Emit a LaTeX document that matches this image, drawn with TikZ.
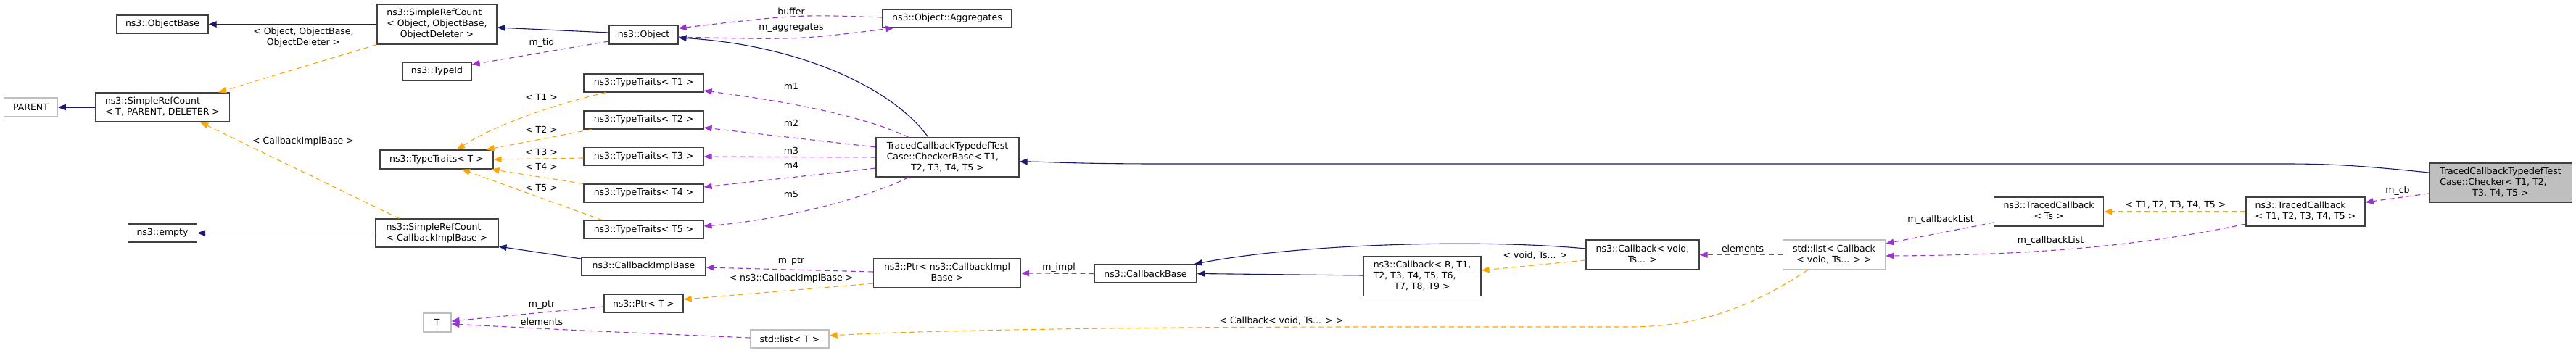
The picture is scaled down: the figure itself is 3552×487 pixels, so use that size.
\documentclass[tikz,border=0pt]{standalone}
\usepackage{fontspec}
\setmainfont{DejaVu Sans}
\usetikzlibrary{arrows.meta}

\definecolor{boxgray}{HTML}{404040}
\definecolor{extgray}{HTML}{BFBFBF}
\definecolor{inhblue}{HTML}{191970}
\definecolor{tplorange}{HTML}{FFA500}
\definecolor{usepurple}{HTML}{9A32CD}

\newcommand{\dgfont}{\fontsize{12.5}{15}\selectfont}
\newcommand{\twol}[2]{\begin{tabular}{@{}l@{}}#1\\\multicolumn{1}{@{}c@{}}{#2}\end{tabular}}

\tikzset{
  cls/.style={draw=boxgray, line width=1.2pt, fill=white, inner sep=0pt, align=center, font=\dgfont},
  ext/.style={cls, draw=extgray},
  cur/.style={cls, fill=extgray},
  lbl/.style={inner sep=0pt, align=center, font=\dgfont},
  inh/.style={draw=inhblue, line width=1.1pt, -{Triangle[length=11pt,width=8.5pt]}},
  tpl/.style={draw=tplorange, line width=1.1pt, dash pattern=on 7pt off 5pt, -{Triangle[length=11pt,width=8.5pt]}},
  usg/.style={draw=usepurple, line width=1.1pt, dash pattern=on 7pt off 5pt, -{Triangle[length=11pt,width=8.5pt]}}
}

\begin{document}
\begin{tikzpicture}[x=1pt,y=-1pt]
\useasboundingbox (0,0) rectangle (3552,487);

\node[cls, minimum width=126pt, minimum height=25pt] (obase) at (224,33.5) {ns3::ObjectBase};
\node[ext, minimum width=73.5pt, minimum height=26pt] (parent) at (42.5,148) {PARENT};
\node[cls, minimum width=185pt, minimum height=40pt] (srctpd) at (224,148) {\twol{ns3::SimpleRefCount}{< T, PARENT, DELETER >}};
\node[cls, minimum width=95pt, minimum height=25pt] (empty) at (224,321.5) {ns3::empty};
\node[cls, minimum width=165pt, minimum height=55pt] (srcobj) at (602.5,33.5) {\twol{ns3::SimpleRefCount\\< Object, ObjectBase,}{ObjectDeleter >}};
\node[cls, minimum width=95pt, minimum height=25pt] (typeid) at (602.5,98.5) {ns3::TypeId};
\node[cls, minimum width=156pt, minimum height=26pt] (ttT) at (602,220) {ns3::TypeTraits< T >};
\node[cls, minimum width=169pt, minimum height=39pt] (srccib) at (602.5,321.5) {\twol{ns3::SimpleRefCount}{< CallbackImplBase >}};
\node[ext, minimum width=38.5pt, minimum height=26pt] (tT) at (602.7,445) {T};
\node[cls, minimum width=95pt, minimum height=26pt] (object) at (887.5,48) {ns3::Object};
\node[cls, minimum width=165pt, minimum height=25pt] (tt1) at (887.5,114.5) {ns3::TypeTraits< T1 >};
\node[cls, minimum width=165pt, minimum height=25pt] (tt2) at (887.5,165.5) {ns3::TypeTraits< T2 >};
\node[cls, minimum width=165pt, minimum height=25pt] (tt3) at (887.5,216) {ns3::TypeTraits< T3 >};
\node[cls, minimum width=165pt, minimum height=25pt] (tt4) at (887.5,266.5) {ns3::TypeTraits< T4 >};
\node[cls, minimum width=165pt, minimum height=25pt] (tt5) at (887.5,317) {ns3::TypeTraits< T5 >};
\node[cls, minimum width=171pt, minimum height=25pt] (cib) at (887.5,367.5) {ns3::CallbackImplBase};
\node[cls, minimum width=109pt, minimum height=25pt] (ptrT) at (887.5,418.5) {ns3::Ptr< T >};
\node[ext, minimum width=108pt, minimum height=25pt] (listT) at (1089,467.5) {std::list< T >};
\node[cls, minimum width=178pt, minimum height=25pt] (aggr) at (1306,25.5) {ns3::Object::Aggregates};
\node[cls, minimum width=197pt, minimum height=54pt] (cbase) at (1306.5,217) {\twol{TracedCallbackTypedefTest\\Case::CheckerBase< T1,}{T2, T3, T4, T5 >}};
\node[cls, minimum width=203pt, minimum height=40pt] (ptrcib) at (1306,377) {\twol{ns3::Ptr< ns3::CallbackImpl}{Base >}};
\node[cls, minimum width=141pt, minimum height=25pt] (cbbase) at (1579.5,377.5) {ns3::CallbackBase};
\node[cls, minimum width=162pt, minimum height=55pt] (cbR) at (1961,381) {\twol{ns3::Callback< R, T1,\\T2, T3, T4, T5, T6,}{T7, T8, T9 >}};
\node[cls, minimum width=156pt, minimum height=41pt] (cbvoid) at (2265,351.5) {\twol{ns3::Callback< void,}{Ts... >}};
\node[ext, minimum width=141.5pt, minimum height=41pt] (listcb) at (2529,351.5) {\twol{std::list< Callback}{< void, Ts... > >}};
\node[cls, minimum width=151pt, minimum height=40pt] (tcTs) at (2825,292) {\twol{ns3::TracedCallback}{< Ts >}};
\node[cls, minimum width=164pt, minimum height=40pt] (tc15) at (3179,292) {\twol{ns3::TracedCallback}{< T1, T2, T3, T4, T5 >}};
\node[cur, minimum width=197pt, minimum height=54pt] (checker) at (3448,252) {\twol{TracedCallbackTypedefTest\\Case::Checker< T1, T2,}{T3, T4, T5 >}};

\draw[inh] (srcobj.west) -- (obase.east);
\draw[inh] (srctpd.west) -- (parent.east);
\draw[inh] (srccib.west) -- (empty.east);
\draw[tpl] (srcobj.south west) -- ([xshift=-16pt]srctpd.north east);
\node[lbl] (lobj) at (418.5,51.5) {< Object, ObjectBase,\\ObjectDeleter >};
\draw[tpl] ([xshift=33pt]srccib.north west) -- ([xshift=-41pt]srctpd.south east);
\node[lbl] (lcib) at (418,195) {< CallbackImplBase >};

\draw[inh] ([yshift=3pt]object.west) -- ([yshift=-4.5pt]srcobj.east);
\draw[usg] ([yshift=-9pt]object.west) -- ([yshift=9.5pt]typeid.east);
\node[lbl] (ltid) at (747,59) {m\_tid};
\draw[usg] ([yshift=1.5pt]aggr.west) .. controls (1100,20) .. ([yshift=9pt]object.east);
\node[lbl] (lbuf) at (1091,16) {buffer};
\draw[usg] ([yshift=-3pt]object.east) .. controls (1100,55) .. ([xshift=16pt]aggr.south west);
\node[lbl] (lagg) at (1091,39) {m\_aggregates};
\draw[inh] ([xshift=-26.5pt]cbase.north) .. controls (1230,120) and (1100,62) .. ([yshift=-4pt]object.east);
\draw[inh] ([yshift=14pt]checker.west) .. controls (3260,229) and (3220,226) .. (3150,226) -- (1600,226) .. controls (1480,226) and (1440,223) .. ([yshift=-6pt]cbase.east);

\draw[tpl] ([xshift=-52pt]tt1.south) .. controls (740,150) and (670,180) .. ([xshift=28pt]ttT.north);
\node[lbl] (lt1) at (746.5,134) {< T1 >};
\draw[tpl] ([xshift=-72pt]tt2.south) -- ([xshift=68.5pt]ttT.north);
\node[lbl] (lt2) at (746.5,179) {< T2 >};
\draw[tpl] ([yshift=-2pt]tt3.west) -- (ttT.east);
\node[lbl] (lt3) at (746.5,210) {< T3 >};
\draw[tpl] (tt4.north west) -- ([xshift=-3pt]ttT.south east);
\node[lbl] (lt4) at (746.5,230) {< T4 >};
\draw[tpl] ([xshift=-56.5pt]tt5.north) -- ([xshift=35pt]ttT.south);
\node[lbl] (lt5) at (746.5,259) {< T5 >};

\draw[usg] ([xshift=-53.5pt]cbase.north) .. controls (1180,155) and (1060,137) .. ([yshift=-10.5pt]tt1.east);
\node[lbl] (lm1) at (1091,119) {m1};
\draw[usg] ([yshift=14pt]cbase.west) -- ([yshift=-10.5pt]tt2.east);
\node[lbl] (lm2) at (1091,170) {m2};
\draw[usg] (cbase.west) -- (tt3.east);
\node[lbl] (lm3) at (1091,208) {m3};
\draw[usg] ([yshift=-15pt]cbase.west) -- ([yshift=8.5pt]tt4.east);
\node[lbl] (lm4) at (1091,228) {m4};
\draw[usg] ([xshift=-53.5pt]cbase.south) .. controls (1180,280) and (1060,305) .. ([yshift=5pt]tt5.east);
\node[lbl] (lm5) at (1091,268) {m5};

\draw[inh] ([yshift=10.5pt]cib.west) -- ([yshift=-18.5pt]srccib.east);
\draw[usg] ([yshift=2pt]ptrcib.west) -- ([yshift=-1.5pt]cib.east);
\node[lbl] (lptr) at (1091,361) {m\_ptr};
\draw[tpl] ([yshift=-14pt]ptrcib.west) -- ([yshift=5.5pt]ptrT.east);
\node[lbl] (lpcib) at (1091,384) {< ns3::CallbackImplBase >};
\draw[usg] ([yshift=-4.5pt]ptrT.west) -- ([yshift=2pt]tT.east);
\node[lbl] (lptrT) at (747,421) {m\_ptr};
\draw[usg] ([yshift=1.5pt]listT.west) .. controls (800,456) .. ([yshift=-2pt]tT.east);
\node[lbl] (lelT) at (747,444) {elements};
\draw[tpl] ([xshift=-36.5pt]listcb.south) .. controls (2420,420) and (2350,450) .. (2250,451) -- (1900,451) .. controls (1500,451) and (1250,457) .. ([yshift=4.5pt]listT.east);
\node[lbl] (lcbl) at (1767,442) {< Callback< void, Ts... > >};

\draw[usg] (cbbase.west) -- (ptrcib.east);
\node[lbl] (limpl) at (1460,369) {m\_impl};
\draw[inh] ([yshift=1pt]cbR.west) -- (cbbase.east);
\draw[inh] ([yshift=8.5pt]cbvoid.west) .. controls (2050,330) and (1800,335) .. ([xshift=-4pt]cbbase.north east);
\draw[tpl] ([yshift=-7.5pt]cbvoid.west) -- ([yshift=8pt]cbR.east);
\node[lbl] (lvoid) at (2117,352) {< void, Ts... >};
\draw[usg] (listcb.west) -- (cbvoid.east);
\node[lbl] (lelcb) at (2403,343) {elements};

\draw[usg] ([yshift=-15pt]tcTs.west) -- ([yshift=15.5pt]listcb.east);
\node[lbl] (lcl1) at (2676,303) {m\_callbackList};
\draw[usg] ([yshift=-17pt]tc15.west) .. controls (2950,340) and (2800,352) .. ([yshift=-1.5pt]listcb.east);
\node[lbl] (lcl2) at (2827.5,332) {m\_callbackList};
\draw[tpl] (tc15.west) -- (tcTs.east);
\node[lbl] (lt15) at (3000,283) {< T1, T2, T3, T4, T5 >};
\draw[usg] ([yshift=-15pt]checker.west) -- ([yshift=13pt]tc15.east);
\node[lbl] (lcb) at (3306,263) {m\_cb};
\end{tikzpicture}
\end{document}
